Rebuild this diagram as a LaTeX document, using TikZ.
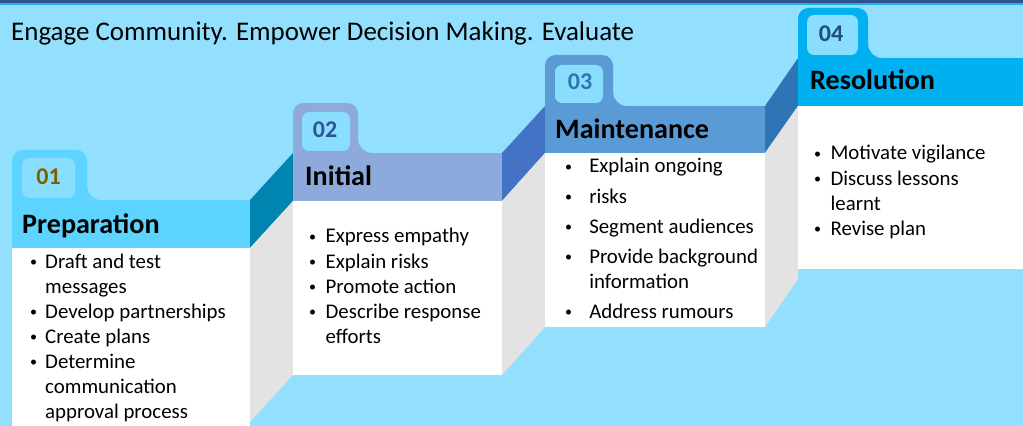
\documentclass[tikz,border=0pt]{standalone}
\usepackage{fontspec}
\setmainfont{Carlito}
\newcommand{\bl}{{\fontsize{12}{12}\selectfont\raisebox{0.12em}{\textbullet}}}

\begin{document}
\begin{tikzpicture}[x=0.03cm,y=-0.03cm,
    hdtext/.style={anchor=base west,inner sep=0pt,font=\fontsize{24}{28}\selectfont\bfseries},
    numtext/.style={inner sep=0pt,font=\fontsize{20.5}{24}\selectfont\bfseries},
    listtext/.style={anchor=base west,inner sep=0pt,font=\fontsize{17.8}{21.4}\selectfont},
    tabshape/.style={rounded corners=9pt},
    tabinner/.style={fill=tabin,rounded corners=6pt}]
    \definecolor{bgblue}{RGB}{146,224,253}
    \definecolor{topbar}{RGB}{47,82,143}
    \definecolor{topline}{RGB}{28,177,234}
    \definecolor{tabin}{RGB}{137,221,253}
    \definecolor{grayface}{RGB}{227,227,227}
    \definecolor{headA}{RGB}{93,212,255}
    \definecolor{sideA}{RGB}{0,133,176}
    \definecolor{numA}{RGB}{127,96,0}
    \definecolor{headB}{RGB}{142,169,219}
    \definecolor{sideB}{RGB}{68,114,196}
    \definecolor{numB}{RGB}{47,85,151}
    \definecolor{headC}{RGB}{91,155,213}
    \definecolor{sideC}{RGB}{46,117,182}
    \definecolor{numC}{RGB}{46,117,182}
    \definecolor{headD}{RGB}{0,176,240}
    \definecolor{numD}{RGB}{31,78,121}
    \clip (0,0) rectangle (1023,426);
    \fill[bgblue] (0,0) rectangle (1023,426);
    \fill[topbar] (0,0) rectangle (1023,3.3);
    \fill[topline] (0,3.3) rectangle (1023,5);
    \node[anchor=base west,inner sep=0pt,font=\fontsize{23}{27}\selectfont] (title) at (11,41) {Engage Community. Empower Decision Making. Evaluate};

    \fill[sideA] (250,200) -- (293,153) -- (293,201) -- (250,248) -- cycle;
    \fill[grayface] (250,248) -- (293,201) -- (293,375) -- (250,422) -- cycle;
    \fill[sideB] (502,153) -- (545,106) -- (545,153) -- (502,201) -- cycle;
    \fill[grayface] (502,201) -- (545,153) -- (545,327) -- (502,375) -- cycle;
    \fill[sideC] (765,106) -- (798,58) -- (798,106) -- (765,153) -- cycle;
    \fill[grayface] (765,153) -- (798,106) -- (798,279) -- (765,327) -- cycle;

    \fill[headA,tabshape] (12,210) -- (12,150) -- (87,150) -- (87,210) -- cycle;
    \fill[headA] (87,200) -- (101,200) .. controls (93.3,200) and (87,193.7) .. (87,186) -- cycle;
    \fill[headA] (12,200) rectangle (250,248);
    \fill[white] (12,248) rectangle (250,440);
    \fill[tabinner] (22,158) rectangle (75,198);
    \node[numtext,text=numA] (n1) at (48.5,177) {01};
    \node[hdtext] (h1) at (22,234) {Preparation};
    \node[listtext] (l1) at (30,268) {\begin{tabular}[t]{@{}p{12.8pt}@{}l@{}}
        \bl & Draft and test\\
            & messages\\
        \bl & Develop partnerships\\
        \bl & Create plans\\
        \bl & Determine\\
            & communication\\
            & approval process
    \end{tabular}};

    \fill[headB,tabshape] (293,163) -- (293,103) -- (358,103) -- (358,163) -- cycle;
    \fill[headB] (358,153) -- (372,153) .. controls (364.3,153) and (358,146.7) .. (358,139) -- cycle;
    \fill[headB] (293,153) rectangle (502,201);
    \fill[white] (293,201) rectangle (502,375);
    \fill[tabinner] (302,112) rectangle (350,151);
    \node[numtext,text=numB] (n2) at (325,130) {02};
    \node[hdtext] (h2) at (305,186) {Initial};
    \node[listtext] (l2) at (309,243) {\begin{tabular}[t]{@{}p{14pt}@{}l@{}}
        \bl & Express empathy\\
        \bl & Explain risks\\
        \bl & Promote action\\
        \bl & Describe response\\
            & efforts
    \end{tabular}};

    \fill[headC,tabshape] (545,116) -- (545,55) -- (613,55) -- (613,116) -- cycle;
    \fill[headC] (613,106) -- (627,106) .. controls (619.3,106) and (613,99.7) .. (613,92) -- cycle;
    \fill[headC] (545,106) rectangle (765,153);
    \fill[white] (545,153) rectangle (765,327);
    \fill[tabinner] (555,65) rectangle (603,103);
    \node[numtext,text=numC] (n3) at (580,81.5) {03};
    \node[hdtext] (h3) at (555,139) {Maintenance};
    \node[listtext] (l3) at (565,173) {\begin{tabular}[t]{@{}p{20.5pt}@{}l@{}}
        \bl & Explain ongoing\\[4.3pt]
        \bl & risks\\[4.3pt]
        \bl & Segment audiences\\[4.3pt]
        \bl & Provide background\\
            & information\\[4.3pt]
        \bl & Address rumours
    \end{tabular}};

    \fill[headD,tabshape] (798,68) -- (798,8) -- (868,8) -- (868,68) -- cycle;
    \fill[headD] (868,58) -- (882,58) .. controls (874.3,58) and (868,51.7) .. (868,44) -- cycle;
    \fill[headD] (798,58) rectangle (1030,106);
    \fill[white] (798,106) rectangle (1030,269);
    \fill[tabinner] (807,15) rectangle (858,55);
    \node[numtext,text=numD] (n4) at (831,34) {04};
    \node[hdtext] (h4) at (810,90) {Resolution};
    \node[listtext] (l4) at (814,160) {\begin{tabular}[t]{@{}p{14pt}@{}l@{}}
        \bl & Motivate vigilance\\
        \bl & Discuss lessons\\
            & learnt\\
        \bl & Revise plan
    \end{tabular}};
\end{tikzpicture}
\end{document}
